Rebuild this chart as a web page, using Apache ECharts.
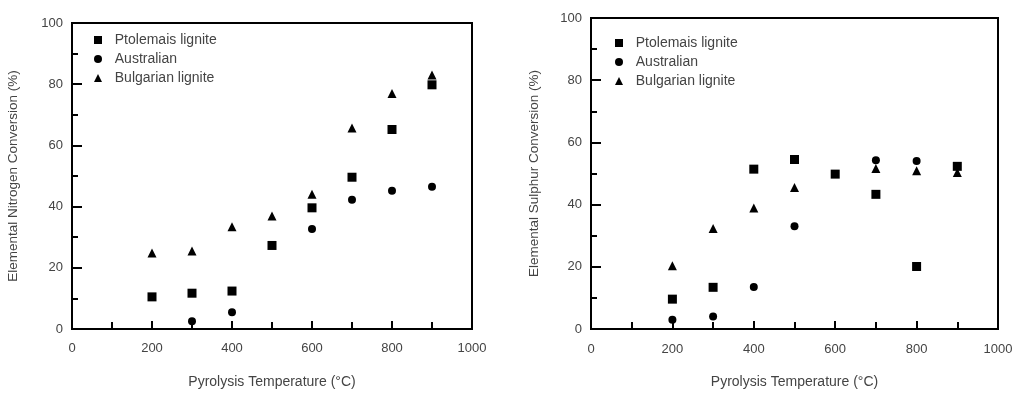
<!DOCTYPE html>
<html>
<head>
<meta charset="utf-8">
<script src="https://cdn.jsdelivr.net/npm/echarts@6/dist/echarts.min.js"></script>
<style>
  html, body { margin: 0; padding: 0; background: #fff; }
  #main { width: 1017px; height: 394px; }
</style>
</head>
<body>
<div id="main"></div>
<script>
// series names
var names = ['Ptolemais lignite', 'Australian', 'Bulgarian lignite']

// left: nitrogen conversion (%)
var nPtolT = [200, 300, 400, 500, 600, 700, 800, 900]
var nPtolV = [10.5, 11.7, 12.4, 27.3, 39.6, 49.6, 65.2, 79.8]
var nAusT = [300, 400, 600, 700, 800, 900]
var nAusV = [2.5, 5.5, 32.7, 42.2, 45.2, 46.5]
var nBulT = [200, 300, 400, 500, 600, 700, 800, 900]
var nBulV = [24.8, 25.5, 33.4, 36.9, 44.0, 65.7, 77.0, 83.0]

// right: sulphur conversion (%)
var sPtolT = [200, 300, 400, 500, 600, 700, 800, 900]
var sPtolV = [9.6, 13.4, 51.4, 54.5, 49.8, 43.3, 20.1, 52.3]
var sAusT = [200, 300, 400, 500, 700, 800]
var sAusV = [3.0, 4.0, 13.5, 33.0, 54.3, 54.0]
var sBulT = [200, 300, 400, 500, 700, 800, 900]
var sBulV = [20.3, 32.3, 38.9, 45.5, 51.6, 50.9, 50.3]

function pairs(xs, ys) {
  var out = []
  for (var i = 0; i < xs.length; i++) out.push([xs[i], ys[i]])
  return out
}

var txt = '#444'
var font = 'Liberation Sans'

function xAx(idx, margin) {
  return {
    type: 'value', gridIndex: idx, min: 0, max: 1000, interval: 200,
    name: 'Pyrolysis Temperature (°C)', nameLocation: 'middle', nameGap: 46,
    nameTextStyle: { color: txt, fontSize: 14, fontFamily: font },
    axisLine: { lineStyle: { color: '#000', width: 2 } },
    axisTick: { inside: true, length: 8, lineStyle: { color: '#000', width: 2 } },
    minorTick: { show: true, splitNumber: 2, length: 7, lineStyle: { color: '#000', width: 2 } },
    axisLabel: { color: txt, fontSize: 13, fontFamily: font, margin: margin,
      formatter: function (v) { return String(v) } },
    splitLine: { show: false }
  }
}
function yAx(idx, title, gap) {
  return {
    type: 'value', gridIndex: idx, min: 0, max: 100, interval: 20,
    name: title, nameLocation: 'middle', nameGap: gap,
    nameTextStyle: { color: txt, fontSize: 13.5, fontFamily: font },
    axisLine: { lineStyle: { color: '#000', width: 2 } },
    axisTick: { inside: true, length: 10, lineStyle: { color: '#000', width: 2 } },
    minorTick: { show: true, splitNumber: 2, length: 6, lineStyle: { color: '#000', width: 2 } },
    axisLabel: { color: txt, fontSize: 13, fontFamily: font, margin: 9 },
    splitLine: { show: false }
  }
}
function sc(name, symbol, idx, data, size) {
  return {
    name: name, type: 'scatter', xAxisIndex: idx, yAxisIndex: idx,
    symbol: symbol, symbolSize: size, data: data,
    itemStyle: { color: '#000', opacity: 1 }
  }
}
function lg(left, top) {
  return {
    left: left, top: top, orient: 'vertical', itemWidth: 8, itemHeight: 8, itemGap: 5,
    data: names, formatter: '  {name}',
    textStyle: { color: txt, fontSize: 14, fontFamily: font }
  }
}

var myChart = echarts.init(document.getElementById('main'))
var option = {
  animation: false,
  grid: [
    { left: 72, top: 23, width: 400, height: 315, show: true, borderColor: '#000', borderWidth: 2 },
    { left: 591, top: 18, width: 407, height: 314, show: true, borderColor: '#000', borderWidth: 2 }
  ],
  legend: [lg(89, 28), lg(610, 31)],
  xAxis: [xAx(0, 13), xAx(1, 14)],
  yAxis: [yAx(0, 'Elemental Nitrogen Conversion (%)', 52), yAx(1, 'Elemental Sulphur Conversion (%)', 50)],
  series: [
    sc(names[0], 'rect', 0, pairs(nPtolT, nPtolV), 9),
    sc(names[1], 'circle', 0, pairs(nAusT, nAusV), 8),
    sc(names[2], 'triangle', 0, pairs(nBulT, nBulV), 9),
    sc(names[0], 'rect', 1, pairs(sPtolT, sPtolV), 9),
    sc(names[1], 'circle', 1, pairs(sAusT, sAusV), 8),
    sc(names[2], 'triangle', 1, pairs(sBulT, sBulV), 9)
  ]
}
myChart.setOption(option)
</script>
</body>
</html>
